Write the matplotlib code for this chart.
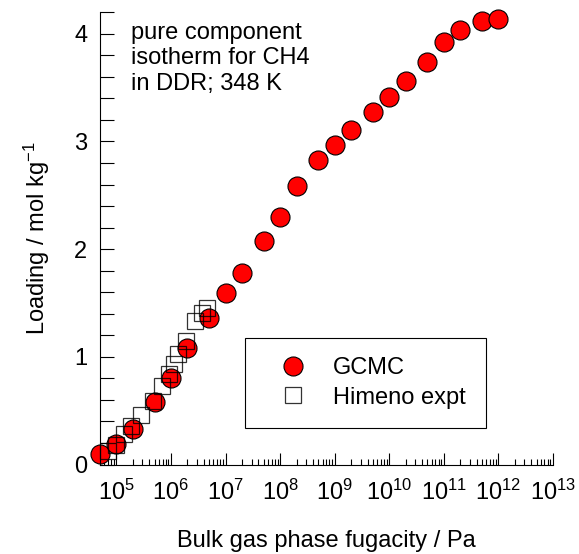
import matplotlib
matplotlib.use("Agg")
import matplotlib.pyplot as plt
from matplotlib.ticker import FixedLocator, MultipleLocator, NullFormatter

plt.rcParams["font.family"] = ["Liberation Sans", "DejaVu Sans"]
plt.rcParams["mathtext.fontset"] = "custom"
plt.rcParams["mathtext.rm"] = "Liberation Sans"
plt.rcParams["mathtext.it"] = "Liberation Sans:italic"

# GCMC simulation, CH4 in DDR at 348 K
gcmc_fugacity = [5e4, 1e5, 2e5, 5e5, 1e6, 2e6, 5e6, 1e7, 2e7, 5e7, 1e8, 2e8,
                 5e8, 1e9, 2e9, 5e9, 1e10, 2e10, 5e10, 1e11, 2e11, 5e11, 1e12]
gcmc_loading = [0.10, 0.19, 0.33, 0.58, 0.80, 1.085, 1.36, 1.595, 1.78, 2.08,
                2.30, 2.59, 2.83, 2.97, 3.11, 3.27, 3.41, 3.56, 3.74, 3.92,
                4.03, 4.12, 4.14]

# Himeno experimental data
expt_fugacity = [6.9e4, 9.8e4, 1.35e5, 1.86e5, 2.8e5, 4.6e5, 6.8e5, 9.1e5,
                 1.12e6, 1.35e6, 1.86e6, 2.7e6, 3.7e6, 4.6e6]
expt_loading = [0.128, 0.18, 0.28, 0.36, 0.457, 0.587, 0.73, 0.84, 0.93,
                1.03, 1.147, 1.33, 1.41, 1.45]

decades = [10.0 ** k for k in range(5, 14)]
minor_ticks = [m * 10.0 ** k for k in range(4, 13) for m in range(2, 10)
               if 5e4 <= m * 10.0 ** k <= 1e13]

fs = 17

fig = plt.figure(figsize=(5.79, 5.54), dpi=100)
ax = fig.add_axes([0.1727, 0.1615, 0.7823, 0.8165])

ax.plot(expt_fugacity, expt_loading, "s", ms=11.5, mfc="none", mec="black",
        mew=0.9, alpha=0.8, clip_on=False, zorder=3, label="Himeno expt")
ax.plot(gcmc_fugacity, gcmc_loading, "o", ms=13.7, mfc="red", mec="black",
        mew=0.8, clip_on=False, zorder=2, label="GCMC")

ax.set_xscale("log")
ax.set_xlim(5e4, 1e13)
ax.set_ylim(0, 4.2)

ax.xaxis.set_major_locator(FixedLocator(decades))
ax.xaxis.set_minor_locator(FixedLocator(minor_ticks))
ax.xaxis.set_minor_formatter(NullFormatter())
ax.yaxis.set_major_locator(MultipleLocator(1))
ax.yaxis.set_minor_locator(MultipleLocator(0.2))

for side in ["top", "right"]:
    ax.spines[side].set_visible(False)
for side in ["left", "bottom"]:
    ax.spines[side].set_linewidth(0.8)

ax.tick_params(axis="x", which="major", direction="in", length=9, width=0.8,
               pad=11, labelsize=fs)
ax.tick_params(axis="x", which="minor", direction="in", length=4, width=0.8)
ax.tick_params(axis="y", which="both", direction="in", length=10, width=0.8,
               pad=9, labelsize=fs)

ax.set_xlabel("Bulk gas phase fugacity / Pa", fontsize=fs, labelpad=18)
ax.set_ylabel(r"Loading / mol kg$^{-1}$", fontsize=fs, labelpad=16)

ax.text(0.068, 0.978, "pure component\nisotherm for CH4\nin DDR; 348 K",
        transform=ax.transAxes, fontsize=fs, va="top", ha="left",
        linespacing=1.19)

handles, labels = ax.get_legend_handles_labels()
leg = ax.legend(handles[::-1], labels[::-1], loc="lower left",
                bbox_to_anchor=(0.32, 0.08), fontsize=fs, frameon=True,
                fancybox=False, framealpha=1, edgecolor="black",
                borderpad=0.84, handlelength=2.4, handletextpad=0.5,
                labelspacing=0.3, borderaxespad=0)
leg.get_frame().set_linewidth(0.8)

fig.savefig("out.png", dpi=100)
